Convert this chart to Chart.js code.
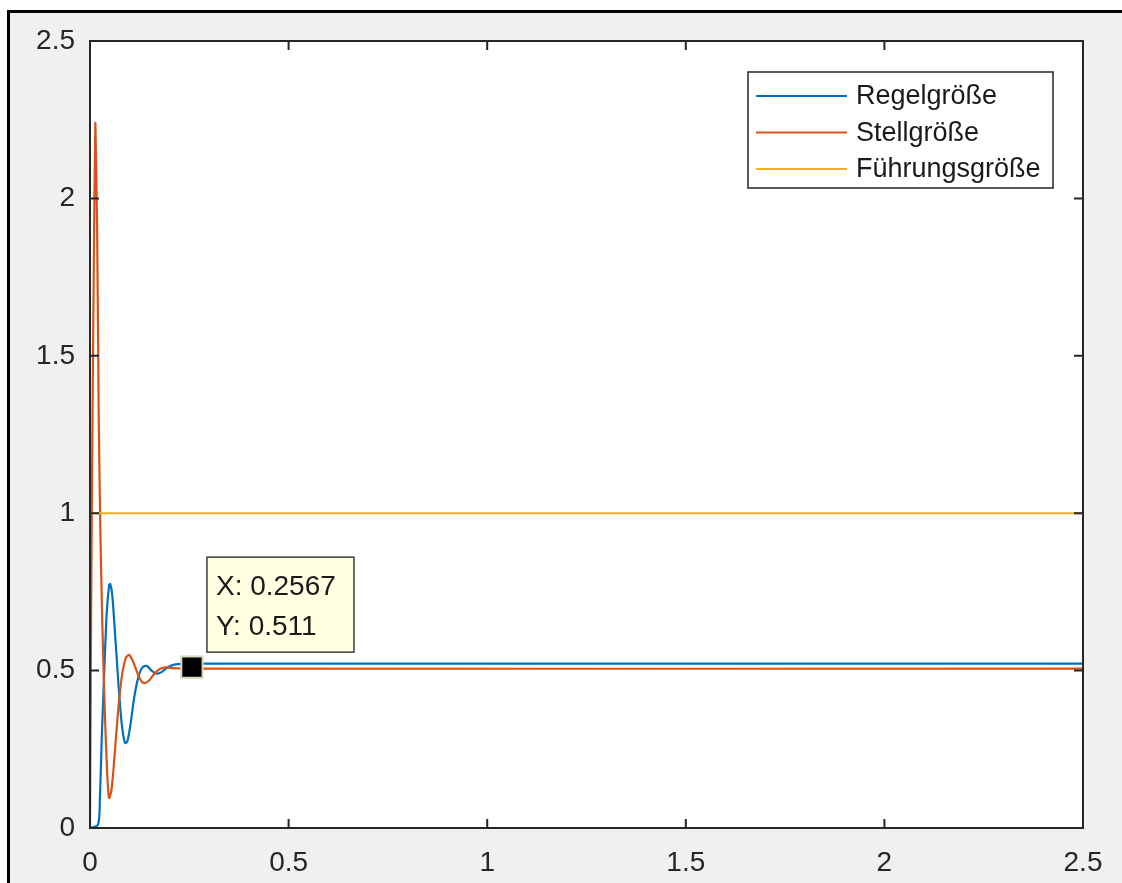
<!DOCTYPE html>
<html>
<head>
<meta charset="utf-8">
<title>Regelkreis Sprungantwort</title>
<script src="https://cdn.jsdelivr.net/npm/chart.js@4.4.1/dist/chart.umd.min.js"></script>
<style>
  html, body { margin: 0; padding: 0; background: #fff; }
  body { width: 1122px; height: 883px; position: relative; overflow: hidden; }
  #frame {
    position: absolute; left: 7px; top: 10px; right: 0; bottom: 0;
    background: #f0f0f0; border-left: 3px solid #000; border-top: 3px solid #000;
  }
  #wrap { position: absolute; left: 0; top: 0; width: 1122px; height: 883px; }
</style>
</head>
<body>
<div id="frame"></div>
<div id="wrap"><canvas id="c" width="1122" height="883"></canvas></div>
<script>
/* Werte (Zeit t, Amplitude) */
var labels = ["Regelgröße", "Stellgröße", "Führungsgröße"];
var colors = ["#0072BD", "#D95319", "#EDB120"];

var regelT = [0, 0.02, 0.025, 0.03, 0.036, 0.042, 0.048, 0.051, 0.056, 0.064, 0.072, 0.08, 0.088, 0.094,
  0.102, 0.112, 0.122, 0.132, 0.143, 0.155, 0.168, 0.18, 0.195, 0.215, 0.2567, 2.5];
var regelY = [0, 0.01, 0.1, 0.3, 0.5, 0.68, 0.77, 0.775, 0.74, 0.6, 0.45, 0.33, 0.27, 0.275,
  0.33, 0.42, 0.48, 0.51, 0.515, 0.5, 0.49, 0.495, 0.51, 0.52, 0.522, 0.522];

var stellT = [0, 0.002, 0.005, 0.01, 0.0135, 0.018, 0.022, 0.026, 0.031, 0.037, 0.043, 0.048, 0.054,
  0.06, 0.07, 0.08, 0.09, 0.098, 0.108, 0.12, 0.13, 0.138, 0.15, 0.162, 0.176, 0.19, 0.21, 0.2567, 2.5];
var stellY = [0, 0.5, 1.1, 1.85, 2.24, 1.9, 1.3, 0.95, 0.65, 0.38, 0.18, 0.095, 0.12,
  0.2, 0.36, 0.48, 0.54, 0.55, 0.53, 0.49, 0.465, 0.46, 0.47, 0.49, 0.505, 0.51, 0.508, 0.506, 0.506];

var fuehrT = [0, 2.5];
var fuehrY = [1, 1];

var tipX = 0.2567;
var tipY = 0.511;

var xTicks = [0, 0.5, 1, 1.5, 2, 2.5];
var yTicks = [0, 0.5, 1, 1.5, 2, 2.5];

var AXIS_COLOR = "#262626";
var FONT = "Liberation Sans, Arial, Helvetica, sans-serif";

function pts(ts, ys) {
  return ts.map(function (t, i) { return { x: t, y: ys[i] }; });
}

/* Achsenbox, Ticks nach innen, Legende und Datatip wie in MATLAB */
var matlabLook = {
  id: "matlabLook",
  beforeDatasetsDraw: function (chart) {
    var a = chart.chartArea, ctx = chart.ctx;
    ctx.save();
    ctx.fillStyle = "#fff";
    ctx.fillRect(a.left, a.top, a.right - a.left, a.bottom - a.top);
    ctx.restore();
  },
  afterDatasetsDraw: function (chart) {
    var a = chart.chartArea, ctx = chart.ctx;
    var sx = chart.scales.x, sy = chart.scales.y;
    var TL = 9;
    ctx.save();
    ctx.strokeStyle = AXIS_COLOR;
    ctx.lineWidth = 2;
    ctx.beginPath();
    xTicks.forEach(function (v) {
      var px = sx.getPixelForValue(v);
      ctx.moveTo(px, a.bottom); ctx.lineTo(px, a.bottom - TL);
      ctx.moveTo(px, a.top); ctx.lineTo(px, a.top + TL);
    });
    yTicks.forEach(function (v) {
      var py = sy.getPixelForValue(v);
      ctx.moveTo(a.left, py); ctx.lineTo(a.left + TL, py);
      ctx.moveTo(a.right, py); ctx.lineTo(a.right - TL, py);
    });
    ctx.stroke();
    ctx.strokeRect(a.left, a.top, a.right - a.left, a.bottom - a.top);

    // Legende oben rechts
    var lw = 305, lh = 116;
    var lx = a.right - 30 - lw, ly = a.top + 31;
    ctx.fillStyle = "#fff";
    ctx.fillRect(lx, ly, lw, lh);
    ctx.strokeStyle = AXIS_COLOR;
    ctx.lineWidth = 1.5;
    ctx.strokeRect(lx, ly, lw, lh);
    ctx.font = "27px " + FONT;
    ctx.textBaseline = "middle";
    ctx.textAlign = "left";
    chart.data.datasets.slice(0, 3).forEach(function (ds, i) {
      var ry = ly + 24 + i * 36.5;
      ctx.strokeStyle = ds.borderColor;
      ctx.lineWidth = 2;
      ctx.beginPath();
      ctx.moveTo(lx + 8, ry); ctx.lineTo(lx + 99, ry);
      ctx.stroke();
      ctx.fillStyle = "#1a1a1a";
      ctx.fillText(ds.label, lx + 108, ry + 1);
    });

    // Datatip
    var px = sx.getPixelForValue(tipX), py = sy.getPixelForValue(tipY);
    var bx = px + 15, by = py - 110, bw = 147, bh = 95;
    ctx.fillStyle = "#ffffe1";
    ctx.fillRect(bx, by, bw, bh);
    ctx.strokeStyle = "#3c3c3c";
    ctx.lineWidth = 1.5;
    ctx.strokeRect(bx, by, bw, bh);
    ctx.fillStyle = "#1a1a1a";
    ctx.font = "28px " + FONT;
    ctx.fillText("X: " + tipX, bx + 9, by + 30);
    ctx.fillText("Y: " + tipY, bx + 9, by + 70);
    ctx.restore();
  }
};

var chart = new Chart(document.getElementById("c"), {
  type: "line",
  data: {
    datasets: [
      { label: labels[0], data: pts(regelT, regelY), borderColor: colors[0], borderWidth: 2.2, pointRadius: 0, tension: 0.3, order: 3 },
      { label: labels[1], data: pts(stellT, stellY), borderColor: colors[1], borderWidth: 2.2, pointRadius: 0, tension: 0.2, order: 2 },
      { label: labels[2], data: pts(fuehrT, fuehrY), borderColor: colors[2], borderWidth: 2, pointRadius: 0, order: 1 },
      { label: "Datatip", data: [{ x: tipX, y: tipY }], showLine: false, pointStyle: "rect",
        pointRadius: 15, backgroundColor: "#000", borderColor: "#d6d4b8", borderWidth: 2, order: 0 }
    ]
  },
  options: {
    responsive: false,
    animation: false,
    devicePixelRatio: 1,
    layout: { padding: { left: 0, top: 41, right: 39, bottom: 0 } },
    plugins: { legend: { display: false }, tooltip: { enabled: false } },
    scales: {
      x: {
        type: "linear", min: 0, max: 2.5,
        afterBuildTicks: function (s) { s.ticks = xTicks.map(function (v) { return { value: v }; }); },
        afterFit: function (s) { s.height = 55; },
        grid: { display: false, drawTicks: false },
        border: { display: false },
        ticks: { color: AXIS_COLOR, padding: 18, maxRotation: 0, font: { family: FONT, size: 28 },
          callback: function (v) { return String(v); } }
      },
      y: {
        type: "linear", min: 0, max: 2.5,
        afterBuildTicks: function (s) { s.ticks = yTicks.map(function (v) { return { value: v }; }); },
        afterFit: function (s) { s.width = 90; },
        grid: { display: false, drawTicks: false },
        border: { display: false },
        ticks: { color: AXIS_COLOR, padding: 15, font: { family: FONT, size: 28 },
          callback: function (v) { return String(v); } }
      }
    }
  },
  plugins: [matlabLook]
});
</script>
</body>
</html>
